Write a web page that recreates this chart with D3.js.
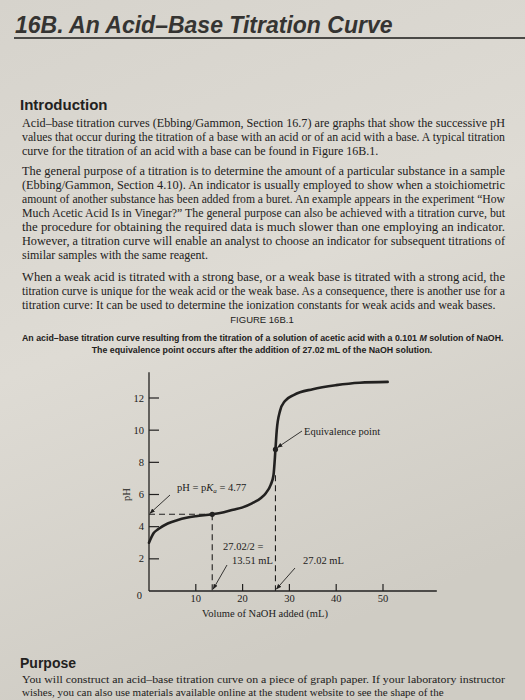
<!DOCTYPE html>
<html><head><meta charset="utf-8">
<script src="https://cdn.jsdelivr.net/npm/d3@7"></script>
<style>body{margin:0;background:#d8d5ce}</style>
</head><body>
<div id="page"></div>
<script>
var width = 525, height = 700;

// titration curve (mL NaOH, pH)
var volumes = [0, 1, 2, 4, 6, 8, 10, 13.51, 16, 18, 20, 22, 24, 25, 26, 26.6, 27.02, 27.3, 28, 29, 31, 35, 40, 45, 51];
var phValues = [3.0, 3.6, 3.85, 4.2, 4.4, 4.55, 4.65, 4.77, 4.9, 5.05, 5.2, 5.45, 5.8, 6.1, 6.6, 7.2, 8.8, 10, 11.2, 11.8, 12.2, 12.55, 12.8, 12.95, 13.0];
var xTicks = [10, 20, 30, 40, 50];
var yTicks = [0, 2, 4, 6, 8, 10, 12];
var halfEq = 13.51, pKa = 4.77, eqVol = 27.02, eqPH = 8.8;

var para1 = ["Acid–base titration curves (Ebbing/Gammon, Section 16.7) are graphs that show the successive pH",
  "values that occur during the titration of a base with an acid or of an acid with a base. A typical titration",
  "curve for the titration of an acid with a base can be found in Figure 16B.1."];
var para2 = ["The general purpose of a titration is to determine the amount of a particular substance in a sample",
  "(Ebbing/Gammon, Section 4.10). An indicator is usually employed to show when a stoichiometric",
  "amount of another substance has been added from a buret. An example appears in the experiment “How",
  "Much Acetic Acid Is in Vinegar?” The general purpose can also be achieved with a titration curve, but",
  "the procedure for obtaining the required data is much slower than one employing an indicator.",
  "However, a titration curve will enable an analyst to choose an indicator for subsequent titrations of",
  "similar samples with the same reagent."];
var para3 = ["When a weak acid is titrated with a strong base, or a weak base is titrated with a strong acid, the",
  "titration curve is unique for the weak acid or the weak base. As a consequence, there is another use for a",
  "titration curve: It can be used to determine the ionization constants for weak acids and weak bases."];
var para4 = ["You will construct an acid–base titration curve on a piece of graph paper. If your laboratory instructor",
  "wishes, you can also use materials available online at the student website to see the shape of the"];

var ink = "#222120";
var svg = d3.select("#page").append("svg").attr("width", width).attr("height", height);

var grad = svg.append("defs").append("linearGradient").attr("id", "paper")
  .attr("x1", 0).attr("y1", 0).attr("x2", 0.3).attr("y2", 1);
grad.append("stop").attr("offset", 0).attr("stop-color", "#d6d3cc");
grad.append("stop").attr("offset", 0.5).attr("stop-color", "#dedbd4");
grad.append("stop").attr("offset", 1).attr("stop-color", "#cfccc4");
svg.append("rect").attr("width", width).attr("height", height).attr("fill", "url(#paper)");

// header
svg.append("text").attr("x", 15).attr("y", 33).attr("fill", "#353432")
  .style("font", "italic 700 23px 'Liberation Sans', Arial, sans-serif").text("16B. An Acid–Base Titration Curve");
svg.append("line").attr("x1", 14).attr("x2", 525).attr("y1", 38).attr("y2", 38).attr("stroke", "#4a4946").attr("stroke-width", 2);

svg.append("text").attr("x", 20).attr("y", 110).attr("fill", ink)
  .style("font", "700 15px 'Liberation Sans', Arial, sans-serif").text("Introduction");

function paragraph(lines, y0, step, x0, right, size) {
  lines.forEach(function(t, i) {
    var el = svg.append("text").attr("x", x0).attr("y", y0 + i * step).attr("fill", ink)
      .style("font", (size || 12) + "px 'Liberation Serif', 'Times New Roman', serif").text(t);
    if (i < lines.length - 1) el.attr("textLength", right - x0).attr("lengthAdjust", "spacingAndGlyphs");
  });
}
paragraph(para1, 127, 14, 22, 505);
paragraph(para2, 175, 14, 22, 505);
paragraph(para3, 281, 14, 22, 505);

svg.append("text").attr("x", 262).attr("y", 323).attr("text-anchor", "middle").attr("fill", ink)
  .style("font", "9.5px 'Liberation Sans', Arial, sans-serif").text("FIGURE 16B.1");
svg.append("text").attr("x", 22).attr("y", 341).attr("fill", ink)
  .style("font", "700 8.8px 'Liberation Sans', Arial, sans-serif")
  .html("An acid–base titration curve resulting from the titration of a solution of acetic acid with a 0.101 <tspan font-style='italic'>M</tspan> solution of NaOH.");
svg.append("text").attr("x", 262).attr("y", 353).attr("text-anchor", "middle").attr("fill", ink)
  .style("font", "700 8.8px 'Liberation Sans', Arial, sans-serif")
  .text("The equivalence point occurs after the addition of 27.02 mL of the NaOH solution.");

// chart
var x = d3.scaleLinear().domain([0, 10]).range([149, 195.8]);
var y = d3.scaleLinear().domain([0, 12]).range([591, 398]);
var serif = "10.5px 'Liberation Serif', 'Times New Roman', serif";
var g = svg.append("g").attr("stroke", ink).attr("fill", "none");

g.append("line").attr("x1", x(0)).attr("x2", x(0)).attr("y1", y(0)).attr("y2", y(13.6)).attr("stroke-width", 1.3);
g.append("line").attr("x1", x(0)).attr("x2", x(61.5)).attr("y1", y(0)).attr("y2", y(0)).attr("stroke-width", 1.3);

g.selectAll(".yt").data(yTicks.filter(d => d > 0)).join("line")
  .attr("x1", x(0)).attr("x2", x(0) + 10).attr("y1", d => y(d)).attr("y2", d => y(d)).attr("stroke-width", 1.2);
g.selectAll(".xt").data(xTicks).join("line")
  .attr("x1", d => x(d)).attr("x2", d => x(d)).attr("y1", y(0)).attr("y2", y(0) - 7).attr("stroke-width", 1.2);

svg.selectAll(".yl").data(yTicks).join("text")
  .attr("x", d => d === 0 ? x(0) - 7 : x(0) - 5).attr("y", d => y(d) + (d === 0 ? 8 : 3.5))
  .attr("text-anchor", "end").attr("fill", ink).style("font", serif).text(d => d);
svg.selectAll(".xl").data(xTicks).join("text")
  .attr("x", d => x(d)).attr("y", y(0) + 11).attr("text-anchor", "middle").attr("fill", ink)
  .style("font", serif).text(d => d);

svg.append("text").attr("transform", "translate(" + 130 + "," + y(6) + ") rotate(-90)")
  .attr("text-anchor", "middle").attr("fill", ink).style("font", serif).text("pH");
svg.append("text").attr("x", 265).attr("y", 617).attr("text-anchor", "middle").attr("fill", ink)
  .style("font", serif).text("Volume of NaOH added (mL)");

// dashed guides
var dash = "6,4";
g.append("line").attr("x1", x(0)).attr("x2", x(halfEq)).attr("y1", y(pKa)).attr("y2", y(pKa)).attr("stroke-dasharray", dash).attr("stroke-width", 1.1);
g.append("line").attr("x1", x(halfEq)).attr("x2", x(halfEq)).attr("y1", y(pKa)).attr("y2", y(0)).attr("stroke-dasharray", dash).attr("stroke-width", 1.1);
g.append("line").attr("x1", x(eqVol)).attr("x2", x(eqVol)).attr("y1", y(7.2)).attr("y2", y(0)).attr("stroke-dasharray", dash).attr("stroke-width", 1.1);

// curve
var pts = volumes.map((v, i) => [v, phValues[i]]);
g.append("path").datum(pts)
  .attr("d", d3.line().x(d => x(d[0])).y(d => y(d[1])).curve(d3.curveMonotoneX))
  .attr("stroke-width", 2.6).attr("stroke-linecap", "round");

svg.append("circle").attr("cx", x(halfEq)).attr("cy", y(pKa)).attr("r", 2.6).attr("fill", ink);
svg.append("circle").attr("cx", x(eqVol)).attr("cy", y(eqPH)).attr("r", 2.6).attr("fill", ink);

// annotation arrows
var defs = svg.select("defs");
defs.append("marker").attr("id", "ah").attr("viewBox", "0 0 10 10").attr("refX", 9).attr("refY", 5)
  .attr("markerWidth", 6).attr("markerHeight", 6).attr("orient", "auto")
  .append("path").attr("d", "M0,1L10,5L0,9z").attr("fill", ink);
function arrow(x1, y1, x2, y2) {
  g.append("line").attr("x1", x1).attr("y1", y1).attr("x2", x2).attr("y2", y2)
    .attr("stroke-width", 0.9).attr("marker-end", "url(#ah)");
}
arrow(170, 495, x(0) + 1, y(pKa) - 1);
arrow(302, 431, x(eqVol) + 2, y(eqPH) - 2);
arrow(227, 565, x(halfEq) + 1, y(0) - 2);
arrow(295, 568, x(eqVol) + 1, y(0) - 2);

function label(tx, ty, html) {
  svg.append("text").attr("x", tx).attr("y", ty).attr("fill", ink).style("font", serif).html(html);
}
label(304, 435, "Equivalence point");
label(177, 491, "pH = p<tspan font-style='italic'>K</tspan><tspan font-style='italic' font-size='7' dy='2'>a</tspan><tspan dy='-2'> = 4.77</tspan>");
label(223, 550, "27.02/2 =");
label(232, 564, "13.51 mL");
label(303, 564, "27.02 mL");

// Purpose
svg.append("text").attr("x", 20).attr("y", 668).attr("fill", ink)
  .style("font", "700 14px 'Liberation Sans', Arial, sans-serif").text("Purpose");
paragraph(para4, 683, 12.5, 22, 505, 11);
</script>
</body></html>
